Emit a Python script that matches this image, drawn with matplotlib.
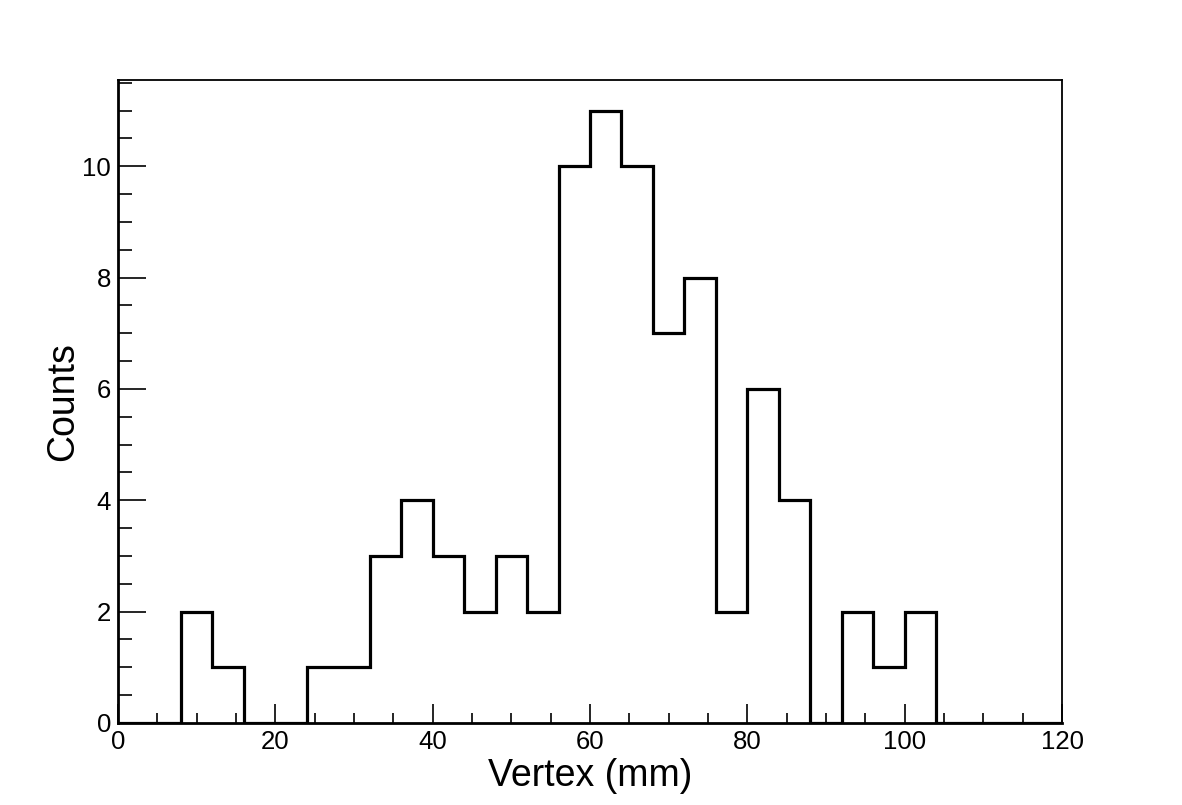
import matplotlib.pyplot as plt
import numpy as np
from matplotlib.ticker import MultipleLocator

plt.rcParams['font.family'] = ['Liberation Sans', 'DejaVu Sans']

bin_edges = np.arange(0, 124, 4)
counts = [0, 0, 2, 1, 0, 0, 1, 1, 3, 4, 3, 2, 3, 2, 10, 11, 10, 7, 8, 2,
          6, 4, 0, 2, 1, 2, 0, 0, 0, 0]

fig = plt.figure(figsize=(11.82, 8.05), dpi=100)
ax = fig.add_axes([0.0998, 0.1019, 0.7987, 0.7987])

ax.stairs(counts, bin_edges, color='black', linewidth=2.3)

ax.set_xlim(0, 120)
ax.set_ylim(0, max(counts) * 1.05)

ax.xaxis.set_major_locator(MultipleLocator(20))
ax.xaxis.set_minor_locator(MultipleLocator(5))
ax.yaxis.set_major_locator(MultipleLocator(2))
ax.yaxis.set_minor_locator(MultipleLocator(0.5))

ax.tick_params(which='both', direction='in', top=False, right=False,
               labelsize=18.5, width=1.2, pad=5)
ax.tick_params(axis='y', which='major', length=20)
ax.tick_params(axis='y', which='minor', length=10)
ax.tick_params(axis='x', which='major', length=14)
ax.tick_params(axis='x', which='minor', length=7)

for side in ['left', 'bottom']:
    ax.spines[side].set_linewidth(2.0)
for side in ['top', 'right']:
    ax.spines[side].set_linewidth(1.3)

ax.set_xlabel("Vertex (mm)", fontsize=27, labelpad=3)
ax.set_ylabel("Counts", fontsize=27, labelpad=1)

fig.savefig("out.png", dpi=100)
